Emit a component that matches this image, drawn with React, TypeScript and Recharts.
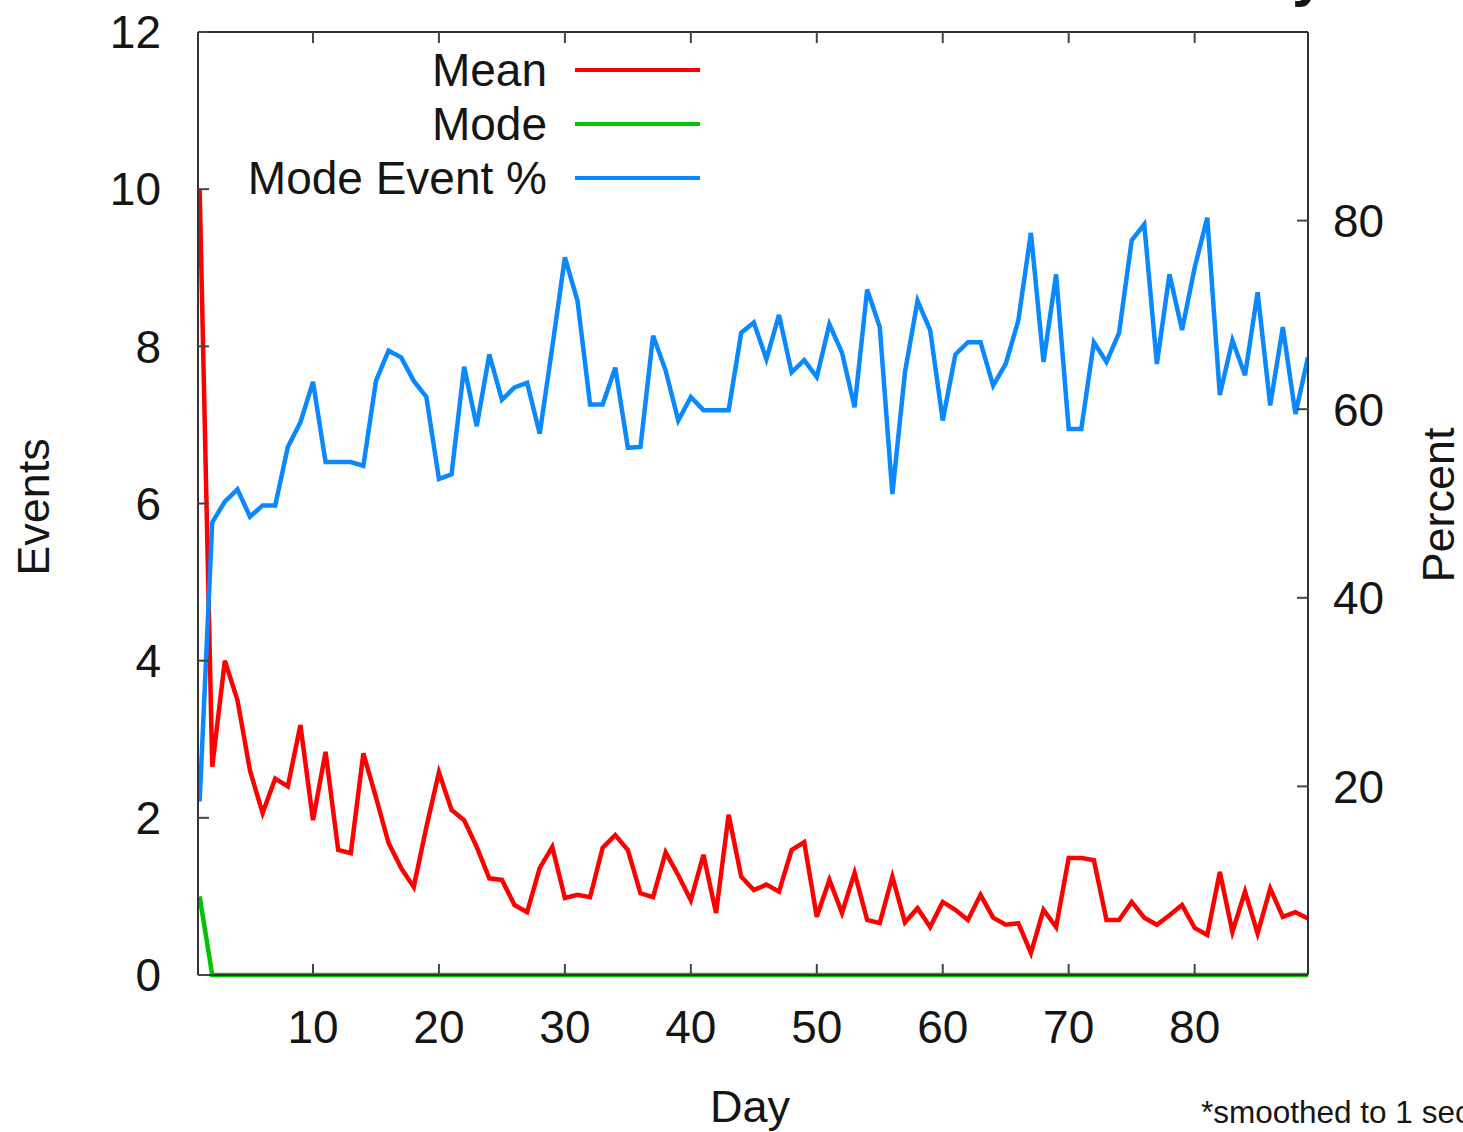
import { LineChart, Line, XAxis, YAxis, Legend, Label } from "recharts";

const days = [
  1, 2, 3, 4, 5, 6, 7, 8, 9, 10, 11, 12, 13, 14, 15, 16, 17, 18, 19, 20,
  21, 22, 23, 24, 25, 26, 27, 28, 29, 30, 31, 32, 33, 34, 35, 36, 37, 38, 39, 40,
  41, 42, 43, 44, 45, 46, 47, 48, 49, 50, 51, 52, 53, 54, 55, 56, 57, 58, 59, 60,
  61, 62, 63, 64, 65, 66, 67, 68, 69, 70, 71, 72, 73, 74, 75, 76, 77, 78, 79, 80,
  81, 82, 83, 84, 85, 86, 87, 88, 89,
];

const meanEvents = [
  10.0, 2.65, 4.0, 3.5, 2.6, 2.06, 2.5, 2.4, 3.18, 1.97,
  2.84, 1.59, 1.55, 2.82, 2.26, 1.68, 1.36, 1.12, 1.88, 2.58,
  2.1, 1.97, 1.63, 1.23, 1.21, 0.89, 0.8, 1.36, 1.63, 0.98,
  1.02, 0.99, 1.62, 1.78, 1.59, 1.04, 0.99, 1.56, 1.27, 0.95,
  1.53, 0.79, 2.04, 1.25, 1.08, 1.15, 1.06, 1.59, 1.69, 0.74,
  1.21, 0.79, 1.3, 0.7, 0.66, 1.25, 0.67, 0.85, 0.61, 0.93,
  0.83, 0.7, 1.02, 0.73, 0.64, 0.66, 0.28, 0.83, 0.61, 1.49,
  1.49, 1.46, 0.7, 0.7, 0.93, 0.73, 0.64, 0.76, 0.89, 0.6,
  0.51, 1.31, 0.55, 1.06, 0.53, 1.1, 0.74, 0.8, 0.72,
];

const modeEvents = [
  1, 0, 0, 0, 0, 0, 0, 0, 0, 0,
  0, 0, 0, 0, 0, 0, 0, 0, 0, 0,
  0, 0, 0, 0, 0, 0, 0, 0, 0, 0,
  0, 0, 0, 0, 0, 0, 0, 0, 0, 0,
  0, 0, 0, 0, 0, 0, 0, 0, 0, 0,
  0, 0, 0, 0, 0, 0, 0, 0, 0, 0,
  0, 0, 0, 0, 0, 0, 0, 0, 0, 0,
  0, 0, 0, 0, 0, 0, 0, 0, 0, 0,
  0, 0, 0, 0, 0, 0, 0, 0, 0,
];

const modeEventPct = [
  18.4, 48, 50.2, 51.5, 48.6, 49.8, 49.8, 56, 58.6, 62.9,
  54.4, 54.4, 54.4, 54, 63, 66.2, 65.5, 63, 61.3, 52.6,
  53.1, 64.5, 58.2, 65.8, 61, 62.3, 62.8, 57.4, 66.6, 76.1,
  71.5, 60.5, 60.5, 64.4, 55.9, 56, 67.8, 64.1, 58.8, 61.3,
  59.9, 59.9, 59.9, 68.1, 69.2, 65.3, 70, 63.9, 65.2, 63.4,
  69, 66, 60.2, 72.7, 68.7, 51, 63.9, 71.5, 68.4, 58.8,
  65.8, 67.1, 67.1, 62.5, 64.8, 69.4, 78.7, 65, 74.3, 57.9,
  57.9, 67.1, 65, 68.1, 77.9, 79.6, 64.8, 74.3, 68.4, 75,
  80.3, 61.5, 67.3, 63.6, 72.4, 60.4, 68.7, 59.5, 65.5,
];

const dayTicks = [10, 20, 30, 40, 50, 60, 70, 80];
const eventTicks = [0, 2, 4, 6, 8, 10, 12];
const pctTicks = [20, 40, 60, 80];

const series = [
  { key: "mean", name: "Mean", color: "#ff0000", axis: "events" },
  { key: "mode", name: "Mode", color: "#00c400", axis: "events" },
  { key: "pct", name: "Mode Event %", color: "#0a88ff", axis: "pct" },
];

const data = days.map((d, i) => ({
  day: d,
  mean: meanEvents[i],
  mode: modeEvents[i],
  pct: modeEventPct[i],
}));

const font = "'Liberation Sans', Arial, Helvetica, sans-serif";
const ink = "#151515";
const frame = { stroke: "#333", strokeWidth: 2 };
const tickLine = { stroke: "#444", strokeWidth: 2 };
const tickFont = { fontSize: 46, fill: ink, fontFamily: font };
const dayDomain = [0.87, 89];

// mirrored border ticks: keep the tick marks, draw no label
const noLabel = () => <g />;

function KeyBox() {
  return (
    <div style={{ fontFamily: font, fontSize: 46, color: ink }}>
      {series.map((s) => (
        <div key={s.key} style={{ display: "flex", alignItems: "center", height: 54 }}>
          <span style={{ width: 547, textAlign: "right", lineHeight: "54px" }}>{s.name}</span>
          <span style={{ marginLeft: 28, width: 125, height: 4, background: s.color }} />
        </div>
      ))}
    </div>
  );
}

const sideTitle = (text: string, x: number, y: number) => () => (
  <text
    x={x}
    y={y}
    transform={`rotate(-90 ${x} ${y})`}
    textAnchor="middle"
    dominantBaseline="central"
    fontSize={45}
    fill={ink}
    fontFamily={font}
  >
    {text}
  </text>
);

const plainText = (text: string, x: number, y: number, size: number, anchor: string, weight = "normal") => () => (
  <text x={x} y={y} textAnchor={anchor} fontSize={size} fill={ink} fontFamily={font} fontWeight={weight}>
    {text}
  </text>
);

export default function App() {
  return (
    <div style={{ position: "absolute", left: 0, top: 0, width: 1463, height: 1132, background: "#fff" }}>
      <LineChart width={1463} height={1132} data={data} margin={{ top: 0, right: 0, bottom: 0, left: 0 }}>
        <XAxis
          dataKey="day"
          type="number"
          domain={dayDomain}
          allowDataOverflow
          ticks={dayTicks}
          height={157}
          axisLine={frame}
          tickLine={tickLine}
          tickSize={-11}
          tickMargin={46}
          tick={tickFont}
        >
          <Label content={plainText("Day", 750, 1122, 45, "middle")} />
          <Label content={plainText("*smoothed to 1 second", 1201, 1123, 31.5, "start")} />
        </XAxis>
        <XAxis
          xAxisId="top"
          orientation="top"
          dataKey="day"
          type="number"
          domain={dayDomain}
          allowDataOverflow
          ticks={dayTicks}
          height={32}
          axisLine={frame}
          tickLine={tickLine}
          tickSize={-11}
          tick={noLabel}
        >
          <Label content={plainText("y", 1292, -5, 60, "start", "bold")} />
        </XAxis>
        <YAxis
          yAxisId="events"
          domain={[0, 12]}
          ticks={eventTicks}
          width={198}
          axisLine={frame}
          tickLine={tickLine}
          tickSize={-11}
          tickMargin={48}
          tick={tickFont}
        >
          <Label content={sideTitle("Events", 33, 507)} />
        </YAxis>
        <YAxis
          yAxisId="eventsMirror"
          orientation="right"
          domain={[0, 12]}
          ticks={eventTicks}
          width={1}
          axisLine={frame}
          tickLine={tickLine}
          tickSize={-11}
          tick={noLabel}
        />
        <YAxis
          yAxisId="pct"
          orientation="right"
          domain={[0, 100]}
          ticks={pctTicks}
          width={154}
          axisLine={false}
          tickLine={tickLine}
          tickSize={-12}
          tickMargin={36}
          tick={tickFont}
        >
          <Label content={sideTitle("Percent", 1438, 505)} />
        </YAxis>
        <Legend
          layout="vertical"
          align="center"
          verticalAlign="middle"
          content={KeyBox}
          wrapperStyle={{ position: "absolute", left: 0, top: 43, width: 720 }}
        />
        {series.map((s) => (
          <Line
            key={s.key}
            yAxisId={s.axis}
            dataKey={s.key}
            name={s.name}
            type="linear"
            stroke={s.color}
            strokeWidth={4.5}
            dot={false}
            activeDot={false}
            isAnimationActive={false}
          />
        ))}
      </LineChart>
    </div>
  );
}
